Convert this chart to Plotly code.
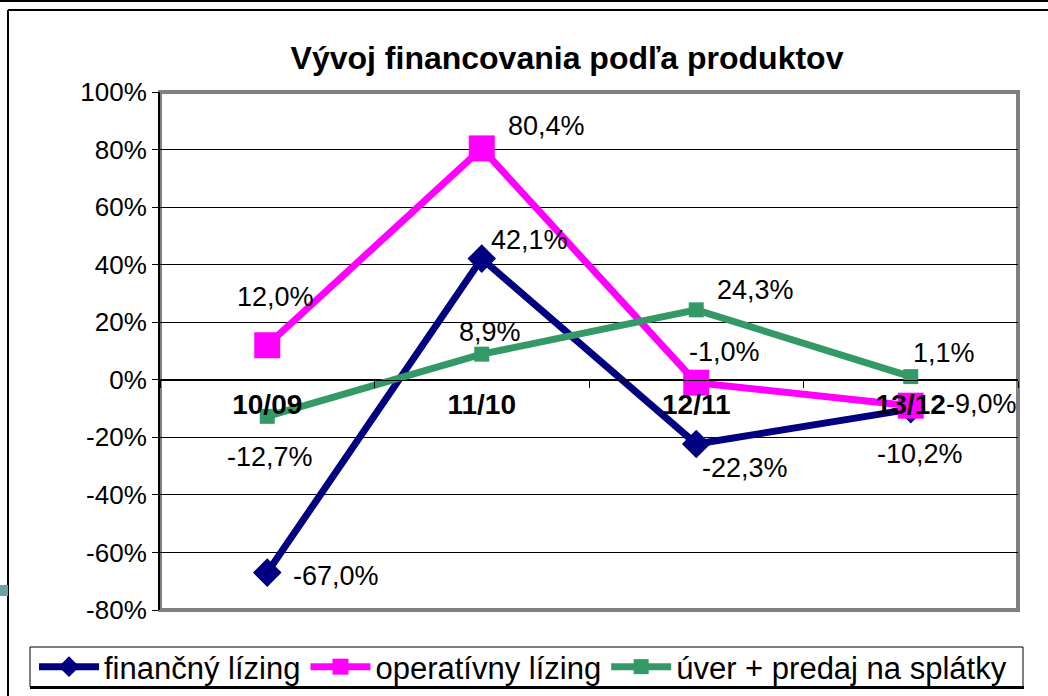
import plotly.graph_objects as go

categories = ["10/09", "11/10", "12/11", "13/12"]
financny = [-67.0, 42.1, -22.3, -10.2]
operativny = [12.0, 80.4, -1.0, -9.0]
uver = [-12.7, 8.9, 24.3, 1.1]
series_names = ["finančný lízing", "operatívny lízing", "úver + predaj na splátky"]
tick_vals = [-80, -60, -40, -20, 0, 20, 40, 60, 80, 100]
tick_text = ["-80%", "-60%", "-40%", "-20%", "0%", "20%", "40%", "60%", "80%", "100%"]

# label offsets (px) per series/point
off_fin = [(69, -3), (48, 19), (49, -24), (9, -45)]
off_op = [(8, 48), (65, 22), (28, 31), (71, 2)]
off_uv = [(3, -41), (8, 22), (59, 20), (33, 24)]

W, H = 1048, 696
L, R, T, B = 160, 1018, 92, 610
pw, ph = R - L, B - T
FONT = "Liberation Sans, Arial"

def px(x):
    return (x - L) / pw

def py(y):
    return (B - y) / ph

def fmt(v):
    return f"{v:.1f}%".replace(".", ",")

fig = go.Figure()
fig.add_trace(go.Scatter(x=categories, y=financny, name=series_names[0], mode="lines+markers",
                         line=dict(color="#000080", width=7),
                         marker=dict(symbol="diamond", size=22, color="#000080")))
fig.add_trace(go.Scatter(x=categories, y=operativny, name=series_names[1], mode="lines+markers",
                         line=dict(color="#FF00FF", width=7),
                         marker=dict(symbol="square", size=26, color="#FF00FF")))
fig.add_trace(go.Scatter(x=categories, y=uver, name=series_names[2], mode="lines+markers",
                         line=dict(color="#339966", width=7),
                         marker=dict(symbol="square", size=15, color="#339966")))

annotations = []
for vals, offs in [(financny, off_fin), (operativny, off_op), (uver, off_uv)]:
    for c, v, (dx, dy) in zip(categories, vals, offs):
        annotations.append(dict(x=c, y=v, xref="x", yref="y", text=fmt(v), showarrow=False,
                                xshift=dx, yshift=dy,
                                font=dict(family=FONT, size=27, color="black")))

shapes = [
    dict(type="rect", xref="paper", yref="paper", x0=0, x1=1, y0=0, y1=1,
         line=dict(color="#808080", width=4), layer="below"),
    dict(type="line", xref="paper", yref="paper", x0=px(-5), x1=px(W + 5), y0=py(1), y1=py(1),
         line=dict(color="black", width=2)),
    dict(type="line", xref="paper", yref="paper", x0=px(8), x1=px(W + 5), y0=py(10), y1=py(10),
         line=dict(color="black", width=2)),
    dict(type="line", xref="paper", yref="paper", x0=px(8), x1=px(8), y0=py(10), y1=py(H + 5),
         line=dict(color="black", width=2)),
    dict(type="rect", xref="paper", yref="paper", x0=px(-2), x1=px(8), y0=py(585), y1=py(596),
         line=dict(width=0), fillcolor="#6aa3a3"),
    # legend box
    dict(type="rect", xref="paper", yref="paper", x0=px(30), x1=px(1023), y0=py(647), y1=py(687),
         line=dict(color="black", width=1), fillcolor="white", layer="below"),
    dict(type="line", xref="paper", yref="paper", x0=px(30), x1=px(1024), y0=py(687.5), y1=py(687.5),
         line=dict(color="black", width=3)),
]

fig.update_layout(
    width=W, height=H,
    margin=dict(l=L, r=W - R, t=T, b=H - B, autoexpand=False),
    paper_bgcolor="white", plot_bgcolor="white",
    font=dict(family=FONT, color="black"),
    title=dict(text="Vývoj financovania podľa produktov", x=567 / W, xanchor="center",
               y=1 - 58 / H, yanchor="middle", xref="container", yref="container",
               font=dict(family=FONT, size=32, color="black", weight="bold")),
    showlegend=True,
    legend=dict(orientation="h", x=px(34), y=py(667), xanchor="left", yanchor="middle",
                borderwidth=0, bgcolor="rgba(0,0,0,0)",
                font=dict(family=FONT, size=31, color="black"),
                itemwidth=60, tracegroupgap=0),
    annotations=annotations,
    shapes=shapes,
)
fig.update_xaxes(type="category", range=[-0.5, 3.5], anchor="free", position=80 / 180,
                 showline=True, linecolor="black", linewidth=1,
                 ticks="outside", tickson="boundaries", ticklen=7, tickcolor="black",
                 tickfont=dict(family=FONT, size=28, color="black", weight="bold"),
                 showgrid=False, zeroline=False)
fig.update_yaxes(range=[-80, 100], tickvals=tick_vals, ticktext=tick_text,
                 showgrid=True, gridcolor="black",
                 gridwidth=1, zeroline=False, showline=True, linecolor="black", linewidth=2,
                 ticks="outside", ticklen=6, tickcolor="black",
                 tickfont=dict(family=FONT, size=26, color="black"))

fig.write_html("out.html", post_script="document.body.style.margin='0';",
               config={"displayModeBar": False})
